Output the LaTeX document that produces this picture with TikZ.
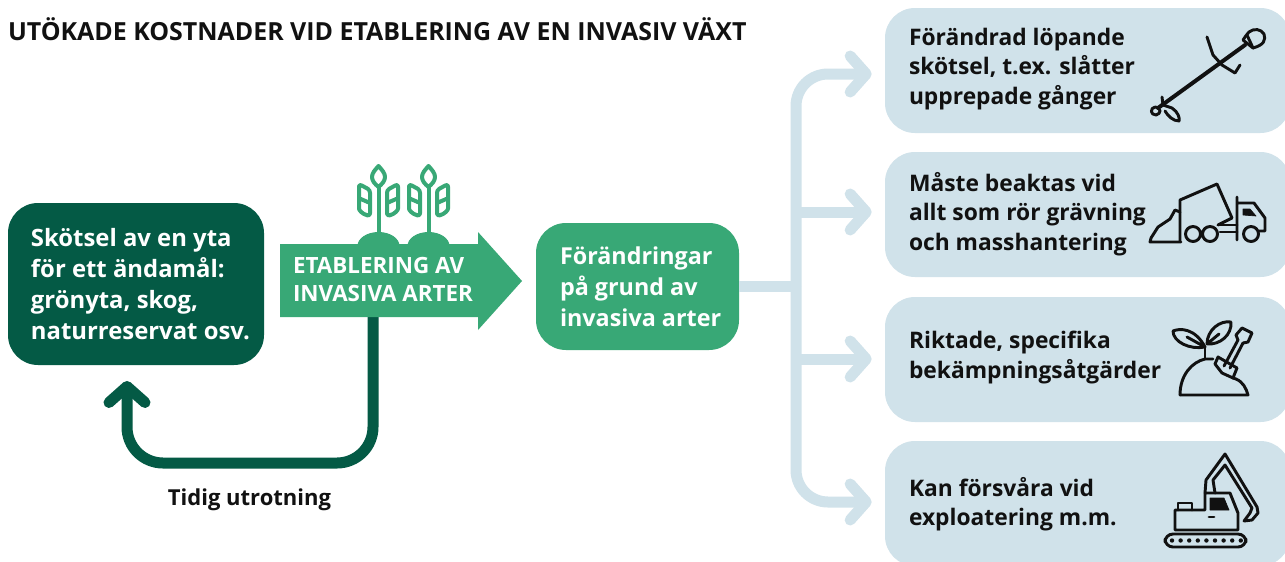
\documentclass[tikz,border=0pt]{standalone}
\usepackage{fontspec}
\setmainfont{Open Sans}
\usetikzlibrary{arrows.meta}
\definecolor{gr}{HTML}{38A876}
\definecolor{dk}{HTML}{045A45}
\definecolor{lb}{HTML}{D0E2EA}
\definecolor{ink}{HTML}{111111}
\tikzset{
 x=0.75pt,y=-0.75pt,
 every node/.style={inner sep=0pt,outer sep=0pt},
 boxtxt/.style={anchor=west,align=left,text=ink,font=\fontsize{17.1}{22.1}\selectfont\bfseries},
 whitetxt/.style={anchor=west,align=left,text=white,font=\fontsize{#1}{23.1}\selectfont\bfseries},
 lbline/.style={draw=lb,line width=8.25pt,rounded corners=24pt},
 lbarrow/.style={lbline,shorten >=10pt,-{Straight Barb[round,length=12pt,width=27pt,line width=8.25pt]}},
 dkarrow/.style={draw=dk,line width=8.25pt,rounded corners=27pt,-{Straight Barb[round,length=12pt,width=27pt,line width=8.25pt]}},
 icon/.style={draw=ink,line width=2.2pt,line join=round,line cap=round,fill=none},
 sprout/.style={draw=gr,line width=3pt,line join=round,fill=none},
}
\begin{document}
\begin{tikzpicture}
\useasboundingbox (0,0) rectangle (1285,561);
\fill[white] (0,0) rectangle (1285,561);

\node[anchor=base west,text=ink,font=\fontsize{18.7}{20}\selectfont\bfseries] (title) at (8,40) {UTÖKADE KOSTNADER VID ETABLERING AV EN INVASIV VÄXT};

% boxes
\node[minimum width=192pt,minimum height=121.5pt,fill=dk,rounded corners=22.5pt,anchor=north west] (left) at (8,203) {};
\node[whitetxt=17.9] (lefttxt) at (31,284) {Skötsel av en yta\\för ett ändamål:\\grönyta, skog,\\naturreservat osv.};
\node[minimum width=152.25pt,minimum height=95.25pt,fill=gr,rounded corners=22.5pt,anchor=north west] (mid) at (536,223) {};
\node[whitetxt=17.5] (midtxt) at (560,287) {Förändringar\\på grund av\\invasiva arter};

\foreach \n/\yy in {a/8,b/152,c/297,d/441}{
 \node[minimum width=304pt,minimum height=93.75pt,fill=lb,rounded corners=22.5pt,anchor=north west] (\n) at (885,\yy) {};
}
\node[boxtxt] (atxt) at (909,69) {Förändrad löpande\\skötsel, t.ex. slåtter\\upprepade gånger};
\node[boxtxt] (btxt) at (909,214) {Måste beaktas vid\\allt som rör grävning\\och masshantering};
\node[boxtxt] (ctxt) at (909,357.5) {Riktade, specifika\\bekämpningsåtgärder};
\node[boxtxt] (dtxt) at (909,504) {Kan försvåra vid\\exploatering m.m.};

% connectors, right side
\coordinate (ja) at (796,74);
\coordinate (jm) at (796,286);
\coordinate (jd) at (796,502);
\coordinate (jb) at (796,212);
\coordinate (jc) at (796,359);
\draw[lbarrow] (jm) -- (ja) -- (a.west |- ja);
\draw[lbarrow] (jm) -- (jd) -- (d.west |- jd);
\draw[lbarrow] (jb) -- (b.west |- jb);
\draw[lbarrow] (jc) -- (c.west |- jc);
\draw[lbline] (mid.east |- jm) -- (jm);

% feedback arrow, dark
\coordinate (fa) at (373,317);
\coordinate (fb) at (373,463);
\coordinate (fc) at (127,463);
\coordinate (fd) at (127,381);
\draw[dkarrow] (fa) -- (fb) -- (fc) -- (fd);
\node[anchor=base,text=ink,font=\fontsize{16.5}{20}\selectfont\bfseries] (tidig) at (249.5,505) {Tidig utrotning};

% sprouts
\foreach \dx in {0,50}{
 \begin{scope}[xshift=\dx*0.75pt]
 \fill[gr] (357.5,246) arc[start angle=180,end angle=360,x radius=21,y radius=14] -- cycle;
 \draw[sprout] (378.5,187) -- (378.5,235);
 \draw[sprout] (378.5,166) .. controls (382,170) and (385,173) .. (385,177) .. controls (385,181) and (382,184) .. (378.5,187) .. controls (375,184) and (372,181) .. (372,177) .. controls (372,173) and (375,170) .. (378.5,166) -- cycle;
 \draw[sprout,rounded corners=2pt] (359,184) -- (370,190) -- (370,216) .. controls (362,214) and (359,210) .. (359,206) -- (359,195) -- cycle (358.5,198) -- (370,203);
 \draw[sprout,rounded corners=2pt] (398,184) -- (387,190) -- (387,216) .. controls (395,214) and (398,210) .. (398,206) -- (398,195) -- cycle (398.5,198) -- (387,203);
 \end{scope}
}
% big green arrow
\path[fill=gr] (280,244) -- (478,244) -- (478,232) -- (522,281) -- (478,330) -- (478,317) -- (280,317) -- cycle;
\coordinate (arrowtext) at (293,279);
\node[anchor=west,align=left,text=white,font=\fontsize{16.8}{21}\selectfont\bfseries] (est) at (arrowtext) {ETABLERING AV\\INVASIVA ARTER};

% trimmer icon
\begin{scope}[icon]
 \draw[line width=3pt] (1158,108) -- (1245,45);
 \draw (1243,40) .. controls (1245,37) and (1247,34) .. (1249,32) .. controls (1254,28) and (1261,29) .. (1264,34) .. controls (1266,40) and (1264,45) .. (1253,48) -- cycle;
 \draw (1247,35) -- (1253,48);
 \draw (1207,37) -- (1213,55) -- (1222,65) -- (1235,73) -- (1240,65);
 \draw (1162,97) -- (1163,105) -- (1172,108) .. controls (1178,112) and (1180,118) .. (1179,121) .. controls (1173,121) and (1168,116) .. (1165,111);
 \draw (1155,107) .. controls (1150,108) and (1150,115) .. (1156,115) .. controls (1161,114) and (1162,108) .. (1155,107);
\end{scope}

% truck icon
\begin{scope}[icon]
 \draw (1180,241) -- (1180,200) -- (1217,184) -- (1232,218) -- (1218,225);
 \draw (1181,242) -- (1150,242) -- (1151,238) -- (1158,227) -- (1170,219) -- (1175,210) -- (1180,212);
 \draw (1193,234) circle[radius=7.5] (1210,234) circle[radius=7.5] (1251,234) circle[radius=7.5];
 \draw (1237,197) -- (1237,240) (1237,203) -- (1254,203) -- (1265,218) -- (1265,231) -- (1259,231);
 \draw (1218,225) -- (1237,225) (1220,232) -- (1237,232);
 \fill[ink,draw=ink,line width=.5pt] (1243,209) -- (1250,209) -- (1256,216) -- (1243,215) -- cycle;
\end{scope}

% plant icon
\begin{scope}[icon]
 \draw (1205,347) .. controls (1195,328) and (1180,328) .. (1173,331) .. controls (1173,342) and (1190,350) .. (1205,347) (1187,337) -- (1205,347);
 \draw (1207,344) .. controls (1207,330) and (1220,320) .. (1231,322) .. controls (1232,335) and (1220,345) .. (1207,344) (1219,334) -- (1207,344);
 \draw (1205,347) -- (1205,359);
 \draw (1180,395) -- (1248,395) .. controls (1246,388) and (1243,382) .. (1236,379) -- (1233,378);
 \draw (1180,395) .. controls (1180,375) and (1192,362) .. (1205,359) -- (1213,359);
 \draw (1218,357) -- (1237,368) -- (1233,378) -- (1222,373) -- (1215,364) -- cycle;
 \draw (1224,366) -- (1238,340) (1230,368) -- (1243,343);
 \draw (1238,340) -- (1236,335) -- (1242,328) -- (1252,333) -- (1248,342) -- (1243,343);
\end{scope}

% excavator icon
\begin{scope}[icon]
 \draw[rounded corners=6pt] (1165,534) rectangle (1246,547);
 \foreach \i in {0,...,8}{\fill[ink] (1172+\i*8.6,540.5) circle[radius=2.2];}
 \draw (1175,510) -- (1205,510) -- (1205,493) -- (1230,493) -- (1238,513) -- (1238,530) -- (1175,530) -- cycle;
 \draw (1178,510) -- (1178,503) -- (1192,503) -- (1192,510);
 \fill[ink,draw=ink,line width=.5pt] (1210,498) -- (1224,498) -- (1229,510) -- (1210,510) -- cycle;
 \draw (1209,517) -- (1214,517);
 \draw (1205,493) -- (1206,480) -- (1225,454) -- (1257,507) -- (1258,513) -- (1252,520) -- (1244,521) -- (1250,513) -- (1252,508);
 \draw (1215,493) -- (1213,480) -- (1225,465) -- (1252,508);
\end{scope}
\end{tikzpicture}
\end{document}
